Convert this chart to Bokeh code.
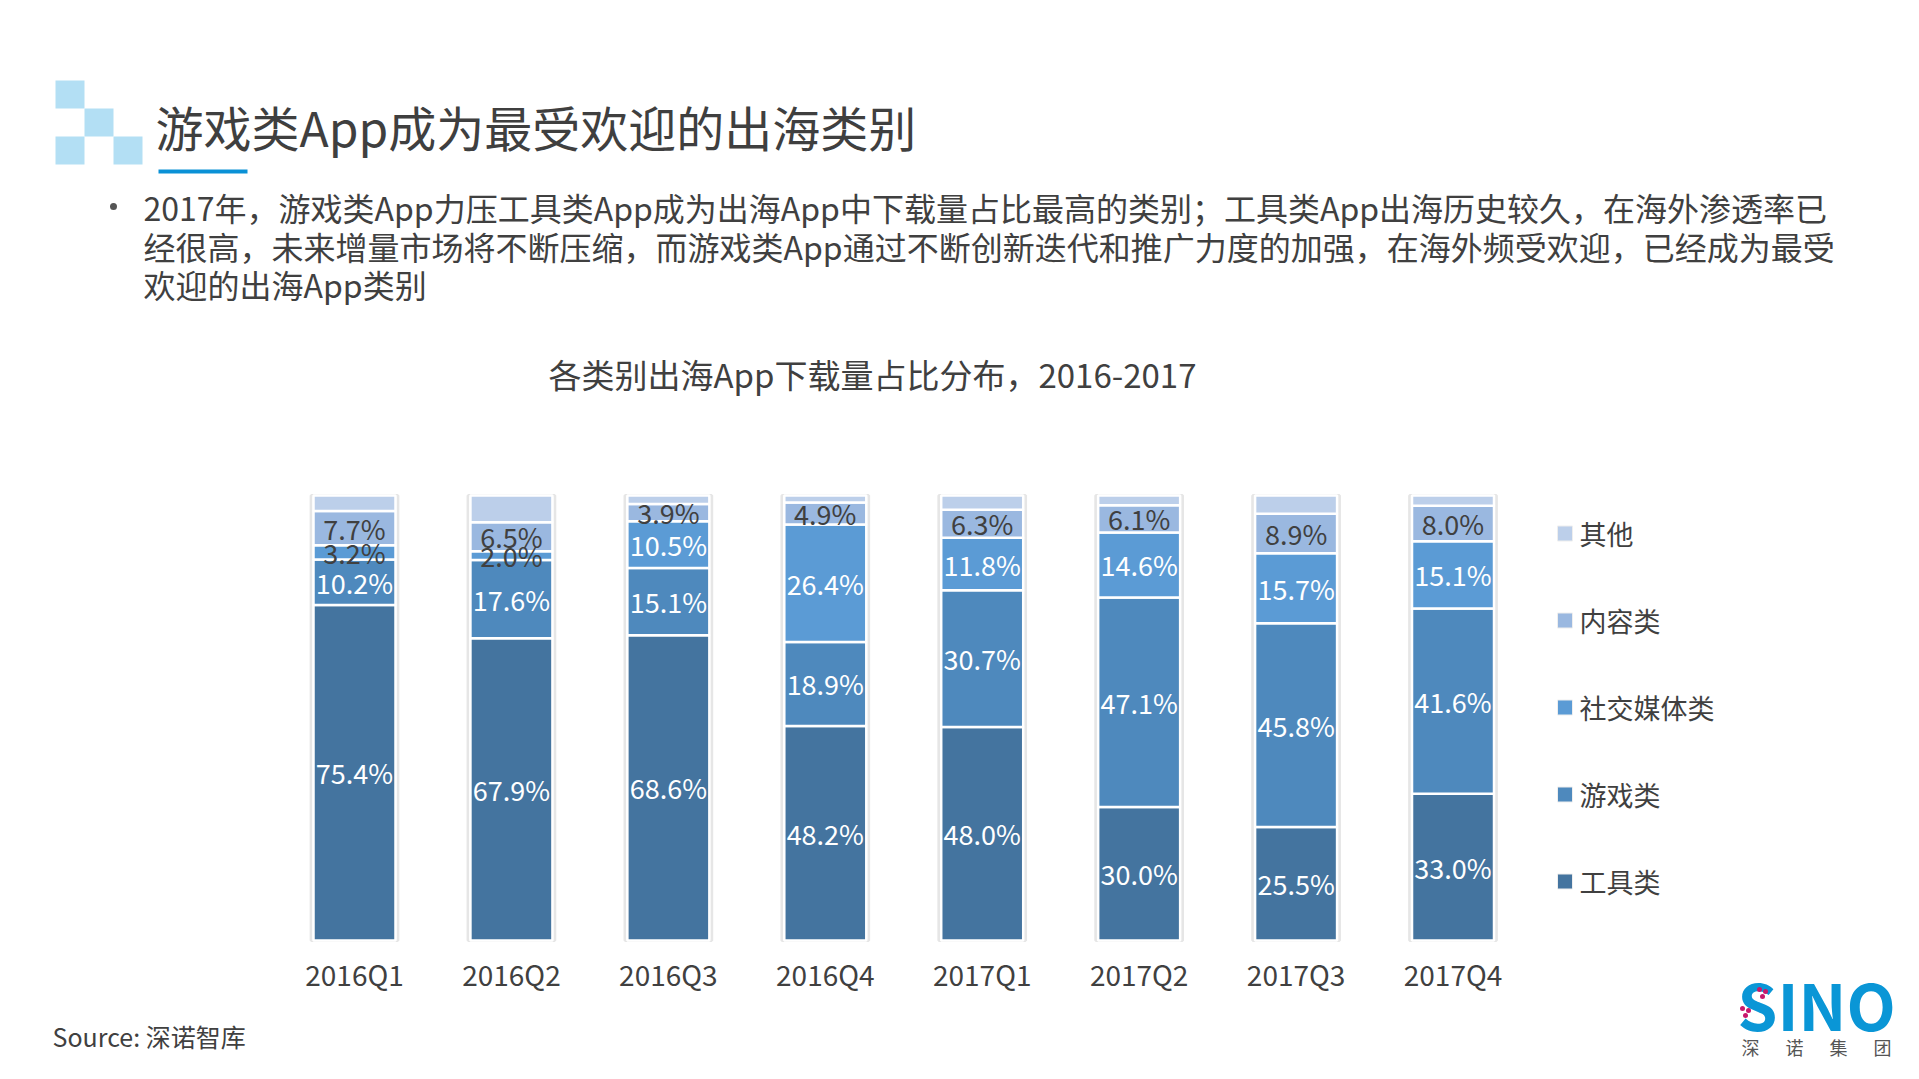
from bokeh.plotting import figure
from bokeh.models import Range1d, ColumnDataSource
from bokeh.core.properties import value
from bokeh.embed import file_html
from bokeh.resources import INLINE

# ---------------- data ----------------
quarters = ["2016Q1", "2016Q2", "2016Q3", "2016Q4", "2017Q1", "2017Q2", "2017Q3", "2017Q4"]
categories = ["工具类", "游戏类", "社交媒体类", "内容类", "其他"]
tools = [75.4, 67.9, 68.6, 48.2, 48.0, 30.0, 25.5, 33.0]
games = [10.2, 17.6, 15.1, 18.9, 30.7, 47.1, 45.8, 41.6]
social = [3.2, 2.0, 10.5, 26.4, 11.8, 14.6, 15.7, 15.1]
content = [7.7, 6.5, 3.9, 4.9, 6.3, 6.1, 8.9, 8.0]
others = [3.5, 6.0, 1.9, 1.6, 3.2, 2.2, 4.1, 2.3]

title = "游戏类App成为最受欢迎的出海类别"
bullet_lines = [
    "2017年，游戏类App力压工具类App成为出海App中下载量占比最高的类别；工具类App出海历史较久，在海外渗透率已",
    "经很高，未来增量市场将不断压缩，而游戏类App通过不断创新迭代和推广力度的加强，在海外频受欢迎，已经成为最受",
    "欢迎的出海App类别",
]
chart_title = "各类别出海App下载量占比分布，2016-2017"
source_text = "Source: 深诺智库"
logo_text = "SINO"
logo_sub = ["深", "诺", "集", "团"]

# ---------------- styles / layout ----------------
colors = ["#44749f", "#4e89bd", "#5b9bd5", "#9ab8e0", "#bccfea"]
FONT = value("Noto Sans CJK SC")
TXT = "#404040"
W, H = 1903, 1063
OFF = 0

# bar-area geometry in picture pixels
bar_c0, bar_step, bar_w_px = 354.0, 156.93, 82.0
y0_px, y100_px = 940.0, 495.0
k = (y0_px - y100_px) / 100.0

qx_range = Range1d((OFF - bar_c0) / bar_step, (OFF + W - bar_c0) / bar_step)
pct_range = Range1d(-(OFF + H - y0_px) / k, 100 + (y100_px - OFF) / k)

p = figure(width=W, height=H, x_range=Range1d(OFF, OFF + W), y_range=Range1d(OFF + H, OFF),
           output_backend="svg", toolbar_location=None,
           x_axis_location=None, y_axis_location=None, min_border=0,
           outline_line_color=None, background_fill_color="white", border_fill_color="white")
p.extra_x_ranges = {"qx": qx_range}
p.extra_y_ranges = {"pct": pct_range}
p.xgrid.visible = False
p.ygrid.visible = False

# ---------------- header decoration ----------------
p.quad(left=[55, 84, 55, 113], right=[84, 113, 84, 142], top=[80, 108, 136, 136],
       bottom=[108, 136, 164, 164], fill_color="#b3dff4", line_color=None)
p.quad(left=[158], right=[247], top=[169], bottom=[173], fill_color="#0a91d6", line_color=None)
p.text(x=[155], y=[125], text=[title], text_font=FONT, text_font_size="48px",
       text_color="#3f3f3f", text_baseline="middle", text_align="left")
p.scatter(x=[113], y=[206], size=7, marker="circle", fill_color="#555555", line_color=None)
p.text(x=[143, 143, 143], y=[206, 245, 283], text=bullet_lines, text_font=FONT,
       text_font_size="32px", text_color=TXT, text_baseline="middle", text_align="left")
p.text(x=[548], y=[373], text=[chart_title], text_font=FONT, text_font_size="33px",
       text_color=TXT, text_baseline="middle", text_align="left")
p.text(x=[52], y=[1035], text=[source_text], text_font=FONT, text_font_size="25px",
       text_color=TXT, text_baseline="middle", text_align="left")

# ---------------- bars ----------------
idx = list(range(len(quarters)))
series = [tools, games, social, content, others]
src = ColumnDataSource(dict(x=idx, **{c: s for c, s in zip(categories, series)}))
bw = bar_w_px / bar_step

p.vbar(x=idx, top=[100] * len(idx), bottom=0, width=bw + 0.03, fill_color=None,
       line_color="#e6e6e6", line_width=3, x_range_name="qx", y_range_name="pct")
p.vbar_stack(categories, x="x", width=bw, fill_color=colors, line_color="white",
             line_width=2.5, source=src, x_range_name="qx", y_range_name="pct")

lx, ly, lt, lc = [], [], [], []
for i in idx:
    cum = 0.0
    for j, s in enumerate(series):
        v = s[i]
        if j < 4:
            lx.append(i)
            ly.append(cum + v / 2)
            lt.append(f"{v:.1f}%")
            dark = (j == 3) or (j == 2 and v < 5)
            lc.append(TXT if dark else "white")
        cum += v
p.text(x="x", y="y", text="t", text_color="c",
       source=ColumnDataSource(dict(x=lx, y=ly, t=lt, c=lc)),
       text_font=FONT, text_font_size="27px", text_align="center", text_baseline="middle",
       x_range_name="qx", y_range_name="pct")

# x tick labels
p.text(x=idx, y=[973] * len(idx), text=quarters, text_font=FONT, text_font_size="28px",
       text_color=TXT, text_align="center", text_baseline="middle", x_range_name="qx")

# ---------------- legend ----------------
leg_y = [533, 620, 707, 794, 881]
leg_names = categories[::-1]
leg_cols = colors[::-1]
p.rect(x=[1564.5] * 5, y=leg_y, width=15, height=15, fill_color=leg_cols, line_color="#eeeeee",
       line_width=1)
p.text(x=[1579] * 5, y=leg_y, text=leg_names, text_font=FONT, text_font_size="27px",
       text_color=TXT, text_align="left", text_baseline="middle")

# ---------------- logo ----------------
p.text(x=[1737], y=[1002], text=[logo_text], text_font=FONT, text_font_style="bold",
       text_font_size="64px", text_color="#0a96d6", text_align="left", text_baseline="middle")
p.scatter(x=[1759, 1765, 1762, 1742, 1748, 1745], y=[989, 991, 996, 1008, 1010, 1015], size=5,
          marker="circle", fill_color="#c8186c", line_color=None)
p.text(x=[1750, 1794, 1838, 1882], y=[1046] * 4, text=logo_sub, text_font=FONT,
       text_font_size="18px", text_color="#555555", text_align="center", text_baseline="middle")

open("out.html", "w").write(file_html(p, INLINE))
